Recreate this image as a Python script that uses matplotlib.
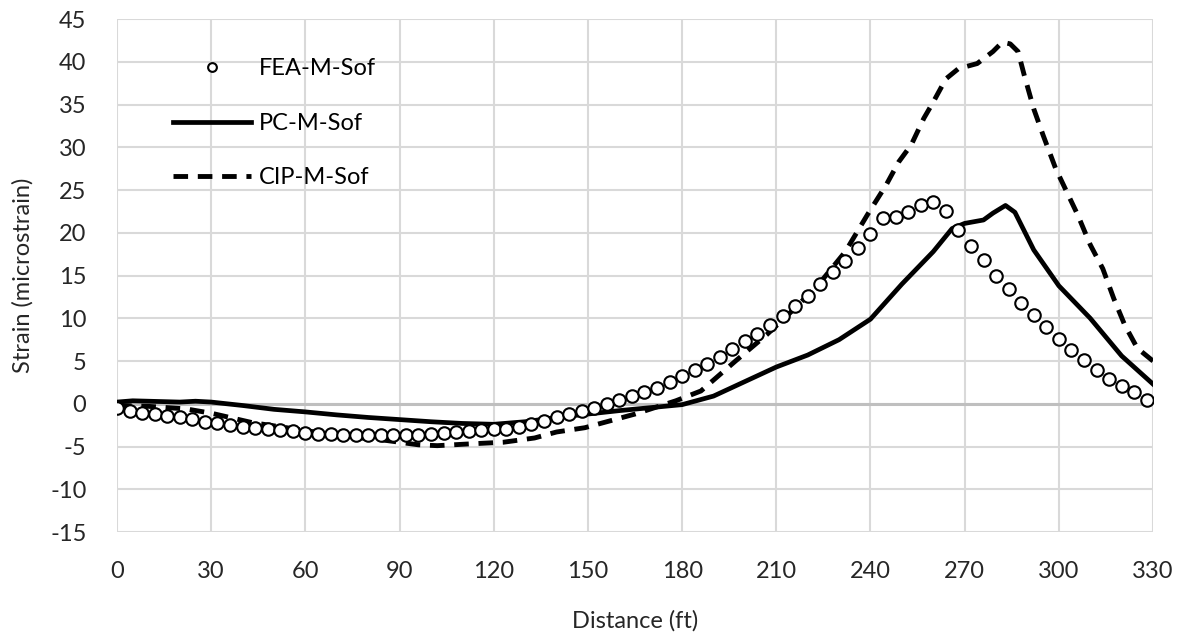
import matplotlib.pyplot as plt

# FEA-M-Sof (open circles), every 4 ft
fea_x = [0, 4, 8, 12, 16, 20, 24, 28, 32, 36, 40, 44, 48, 52, 56, 60, 64, 68, 72, 76,
         80, 84, 88, 92, 96, 100, 104, 108, 112, 116, 120, 124, 128, 132, 136, 140,
         144, 148, 152, 156, 160, 164, 168, 172, 176, 180, 184, 188, 192, 196, 200,
         204, 208, 212, 216, 220, 224, 228, 232, 236, 240, 244, 248, 252, 256, 260,
         264, 268, 272, 276, 280, 284, 288, 292, 296, 300, 304, 308, 312, 316, 320,
         324, 328]
fea_y = [-0.5, -0.8, -1.05, -1.2, -1.4, -1.6, -1.8, -2.1, -2.3, -2.5, -2.7, -2.8, -3.0,
         -3.1, -3.2, -3.4, -3.5, -3.55, -3.6, -3.65, -3.7, -3.7, -3.7, -3.65, -3.6,
         -3.5, -3.45, -3.35, -3.2, -3.1, -3.0, -2.9, -2.7, -2.4, -2.0, -1.6, -1.2,
         -0.8, -0.45, 0.0, 0.45, 0.9, 1.4, 1.9, 2.6, 3.3, 3.9, 4.6, 5.5, 6.4, 7.3,
         8.2, 9.2, 10.3, 11.4, 12.6, 14.0, 15.4, 16.7, 18.2, 19.9, 21.7, 21.9, 22.4,
         23.2, 23.6, 22.6, 20.3, 18.4, 16.8, 14.9, 13.4, 11.8, 10.4, 9.0, 7.6, 6.3,
         5.1, 3.9, 2.9, 2.1, 1.4, 0.5]

# PC-M-Sof (solid)
pc_x = [0, 5, 10, 15, 20, 25, 30, 40, 50, 60, 70, 80, 90, 100, 110, 120, 130, 140, 150,
        160, 170, 180, 190, 200, 210, 220, 230, 240, 250, 260, 266, 270, 276, 279, 283,
        286, 292, 300, 310, 320, 330]
pc_y = [0.2, 0.35, 0.3, 0.25, 0.2, 0.3, 0.2, -0.2, -0.65, -0.95, -1.3, -1.6, -1.85, -2.1,
        -2.3, -2.4, -2.1, -1.6, -1.2, -0.8, -0.45, -0.1, 0.9, 2.6, 4.3, 5.7, 7.5, 9.9,
        14.0, 17.8, 20.5, 21.1, 21.5, 22.3, 23.2, 22.4, 18.0, 13.8, 10.0, 5.6, 2.3]

# CIP-M-Sof (dashed)
cip_x = [0, 10, 22, 30, 43, 54, 64, 75, 86, 96, 102, 112, 123, 133, 140, 149, 165, 178,
         186, 197, 207, 216, 224, 232, 239, 245, 249, 253, 257, 260, 264, 268, 274, 279,
         282, 284.5, 287, 289, 292, 295, 299, 302.5, 306, 310, 314, 317.5, 321, 325, 330]
cip_y = [-0.2, -0.3, -0.6, -1.1, -2.2, -2.8, -3.35, -3.9, -4.3, -4.8, -4.9, -4.7, -4.5,
         -4.0, -3.3, -2.8, -1.2, 0.35, 1.5, 5.0, 8.1, 11.2, 14.2, 17.8, 22.1, 25.6, 28.3,
         30.3, 33.4, 35.3, 38.0, 39.2, 39.8, 41.2, 42.3, 42.1, 41.2, 38.4, 34.5, 31.4,
         27.5, 24.8, 22.1, 18.6, 15.8, 12.3, 9.2, 6.5, 5.0]

x_ticks = list(range(0, 331, 30))
y_ticks = list(range(-15, 46, 5))

plt.rcParams['font.family'] = ['Lato', 'DejaVu Sans']
plt.rcParams['axes.unicode_minus'] = False
text_color = '#262626'

fig = plt.figure(figsize=(11.82, 6.36), dpi=100)
ax = fig.add_axes([0.099, 0.1635, 0.8765, 0.8065])

ax.plot(fea_x, fea_y, linestyle='none', marker='o', markersize=9,
        markerfacecolor='white', markeredgecolor='black', markeredgewidth=1.5,
        label='FEA-M-Sof', zorder=4)
ax.plot(pc_x, pc_y, color='black', linewidth=3.4, label='PC-M-Sof', zorder=3)
ax.plot(cip_x, cip_y, color='black', linewidth=3.5, linestyle=(0, (3, 2)),
        label='CIP-M-Sof', zorder=3)

ax.axhline(0, color='#bfbfbf', linewidth=2.2, zorder=1)

ax.set_xlim(0, 330)
ax.set_ylim(-15, 45)
ax.set_xticks(x_ticks)
ax.set_yticks(y_ticks)
ax.grid(True, color='#d9d9d9', linewidth=1.5, zorder=0)
ax.set_axisbelow(True)
for s in ax.spines.values():
    s.set_visible(False)
ax.tick_params(axis='both', length=0, labelsize=17, colors=text_color)
ax.tick_params(axis='y', pad=22)
ax.tick_params(axis='x', pad=21)

ax.set_xlabel('Distance (ft)', fontsize=17, color=text_color, labelpad=20)
ax.set_ylabel('Strain (microstrain)', fontsize=17, color=text_color, labelpad=12)

ax.legend(loc='upper left', bbox_to_anchor=(0.045, 0.942), borderaxespad=0,
          frameon=False, fontsize=17, handlelength=3.3, handletextpad=0.35,
          labelspacing=1.42, markerscale=0.7)

plt.savefig('out.png', dpi=100)
